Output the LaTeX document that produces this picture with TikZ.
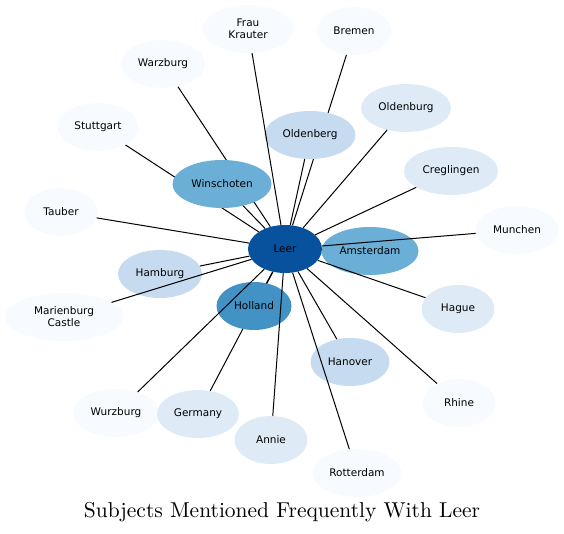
\documentclass[tikz,border=0pt]{standalone}
\usepackage{fontspec}
\usepackage{tikz}
\usetikzlibrary{shapes.geometric,backgrounds}
\newfontfamily\labelfont{DejaVu Sans}
\newfontfamily\titlefont{lmroman10-regular.otf}
\definecolor{blues0}{HTML}{F7FBFF}
\definecolor{blues1}{HTML}{DEEBF7}
\definecolor{blues2}{HTML}{C6DBEF}
\definecolor{blues4}{HTML}{6BAED6}
\definecolor{blues5}{HTML}{4292C6}
\definecolor{blues7}{HTML}{08519C}

\begin{document}
\begin{tikzpicture}[x=1pt,y=-1pt,
  city/.style={ellipse,minimum width=#1,minimum height=48pt,inner sep=0pt,
    align=center,font=\labelfont\fontsize{10.5}{12}\selectfont},
  link/.style={black,line width=1pt}]
\useasboundingbox (0,0) rectangle (564,534);
% subjects, placed at their pixel centres
\foreach \n/\x/\y/\w/\c/\t in {
  leer/285/249/74/blues7/Leer, frau/248/29/91/blues0/{Frau\\Krauter},
  bremen/354/31/74/blues0/Bremen, warzburg/163/64/84/blues0/Warzburg,
  oldenberg/310/135/91/blues2/Oldenberg, oldenburg/406/108/90/blues1/Oldenburg,
  stuttgart/98/127/81/blues0/Stuttgart, winschoten/222/184/99/blues4/Winschoten,
  creglingen/451/171/94/blues1/Creglingen, tauber/61/212/73/blues0/Tauber,
  munchen/517/230/83/blues0/Munchen, amsterdam/370/251/97/blues4/Amsterdam,
  hamburg/160/274/84/blues2/Hamburg, marienburg/64/317/119/blues0/{Marienburg\\Castle},
  holland/254/306/75/blues5/Holland, hague/458/309/73/blues1/Hague,
  hanover/350/362/79/blues2/Hanover, rhine/459/403/73/blues0/Rhine,
  wurzburg/116/413/86/blues0/Wurzburg, germany/198/414/82/blues1/Germany,
  annie/271/440/73/blues1/Annie, rotterdam/357/473/89/blues0/Rotterdam}
  \node[city=\w,fill=\c] (\n) at (\x,\y) {\t};
% links hidden behind other subjects
\begin{scope}[on background layer]
\foreach \n in {stuttgart,warzburg,bremen,germany}
  \draw[link] (leer) -- (\n);
\end{scope}
\foreach \n in {frau,oldenberg,oldenburg,winschoten,creglingen,tauber,munchen,amsterdam,
  hamburg,marienburg,holland,hague,hanover,rhine,wurzburg,annie,rotterdam}
  \draw[link] (leer) -- (\n);
\node[anchor=base,font=\titlefont\fontsize{21.5}{25}\selectfont] (title) at (282,517)
  {Subjects Mentioned Frequently With Leer};
\end{tikzpicture}
\end{document}
